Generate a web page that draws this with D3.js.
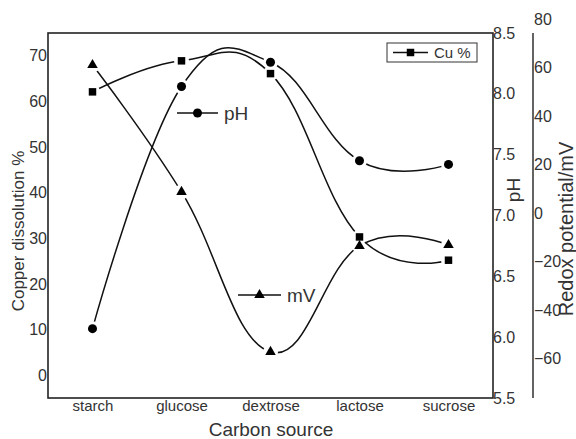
<!DOCTYPE html>
<html>
<head>
<meta charset="utf-8">
<script src="https://cdn.jsdelivr.net/npm/d3@7"></script>
<style>
  body { margin: 0; background: #fff; }
  text { font-family: "Liberation Sans", Arial, sans-serif; fill: #333; }
</style>
</head>
<body>
<svg id="chart" width="576" height="439"></svg>
<script>
// data
const sources = ["starch", "glucose", "dextrose", "lactose", "sucrose"];
const copper = [62.1, 68.9, 66.1, 30.3, 25.2];     // Cu %
const ph = [6.07, 8.06, 8.26, 7.45, 7.42];         // pH
const redox = [61, 8.7, -57.3, -13.6, -13.2];      // mV
const cuTicks = [0, 10, 20, 30, 40, 50, 60, 70];
const phTicks = [5.5, 6.0, 6.5, 7.0, 7.5, 8.0, 8.5];
const mvTicks = [-60, -40, -20, 0, 20, 40, 60, 80];

const svg = d3.select("#chart");
const pLeft = 48, pRight = 493, pTop = 33, pBottom = 398;
const redoxX = 533;

const x = d3.scalePoint().domain(sources).range([pLeft, pRight]).padding(0.5);
const yCu = d3.scaleLinear().domain([-5, 75]).range([pBottom, pTop]);
const yPh = d3.scaleLinear().domain([5.5, 8.5]).range([pBottom, pTop]);
const yMv = d3.scaleLinear().domain([-80, 80]).range([407, 19]);

// frame
svg.append("rect")
    .attr("x", pLeft).attr("y", pTop)
    .attr("width", pRight - pLeft).attr("height", pBottom - pTop)
    .attr("fill", "none").attr("stroke", "#222").attr("stroke-width", 1.6);

// left axis
const gL = svg.append("g").attr("transform", `translate(${pLeft},0)`)
    .call(d3.axisLeft(yCu).tickValues(cuTicks).tickSize(0).tickPadding(1));
gL.select(".domain").remove();
gL.selectAll("text").style("font-size", "16px").attr("fill", "#333");

// pH axis
const gP = svg.append("g").attr("transform", `translate(${pRight},0)`)
    .call(d3.axisRight(yPh).tickValues(phTicks).tickSize(0).tickPadding(0)
        .tickFormat(d3.format(".1f")));
gP.select(".domain").remove();
gP.selectAll("text").style("font-size", "16px").attr("fill", "#333");

// redox axis
svg.append("line")
    .attr("x1", redoxX).attr("x2", redoxX).attr("y1", pTop).attr("y2", pBottom)
    .attr("stroke", "#222").attr("stroke-width", 1.4);
const gM = svg.append("g").attr("transform", `translate(${redoxX},0)`)
    .call(d3.axisRight(yMv).tickValues(mvTicks).tickSize(0).tickPadding(1));
gM.select(".domain").remove();
gM.selectAll("text").style("font-size", "16px").attr("fill", "#333");

// x axis labels
const gX = svg.append("g").attr("transform", `translate(0,${pBottom})`)
    .call(d3.axisBottom(x).tickSize(0).tickPadding(2.5));
gX.select(".domain").remove();
gX.selectAll("text").style("font-size", "15px").attr("fill", "#333");

// titles
svg.append("text").attr("x", 271).attr("y", 436)
    .attr("text-anchor", "middle").style("font-size", "19px").text("Carbon source");
svg.append("text").attr("transform", "translate(24,231) rotate(-90)")
    .attr("text-anchor", "middle").style("font-size", "17px").text("Copper dissolution %");
svg.append("text").attr("transform", "translate(520,190) rotate(-90)")
    .attr("text-anchor", "middle").style("font-size", "19px").text("pH");
svg.append("text").attr("transform", "translate(573,229) rotate(-90)")
    .attr("text-anchor", "middle").style("font-size", "20px").text("Redox potential/mV");

const symbols = { square: d3.symbolSquare, circle: d3.symbolCircle, triangle: d3.symbolTriangle };
const sizes = { square: 56, circle: 64, triangle: 48 };

const series = [
    { id: "cu", values: copper, y: yCu, shape: "square" },
    { id: "ph", values: ph, y: yPh, shape: "circle" },
    { id: "mv", values: redox, y: yMv, shape: "triangle" }
];

const defs = svg.append("defs");
const line = d3.line().curve(d3.curveCardinal.tension(-0.25));

series.forEach(s => {
    const pts = sources.map((c, i) => [x(c), s.y(s.values[i])]);
    // gap around own markers
    const mask = defs.append("mask").attr("id", "m-" + s.id)
        .attr("maskUnits", "userSpaceOnUse")
        .attr("x", 0).attr("y", 0).attr("width", 576).attr("height", 439);
    mask.append("rect").attr("width", 576).attr("height", 439).attr("fill", "#fff");
    mask.selectAll("circle").data(pts).enter().append("circle")
        .attr("cx", d => d[0]).attr("cy", d => d[1]).attr("r", 7.5).attr("fill", "#000");

    svg.append("path").datum(pts)
        .attr("d", line)
        .attr("fill", "none").attr("stroke", "#111").attr("stroke-width", 1.5)
        .attr("mask", `url(#m-${s.id})`);

    svg.selectAll(".mk-" + s.id).data(pts).enter().append("path")
        .attr("class", "mk-" + s.id)
        .attr("transform", d => `translate(${d[0]},${d[1]})`)
        .attr("d", d3.symbol().type(symbols[s.shape]).size(sizes[s.shape]))
        .attr("fill", "#000");
});

// legend entries
function legendItem(x0, y0, x1, shape, label, size) {
    svg.append("line").attr("x1", x0).attr("x2", x1).attr("y1", y0).attr("y2", y0)
        .attr("stroke", "#111").attr("stroke-width", 1.5);
    svg.append("path").attr("transform", `translate(${(x0 + x1) / 2},${y0})`)
        .attr("d", d3.symbol().type(symbols[shape]).size(sizes[shape]))
        .attr("fill", "#000");
    svg.append("text").attr("x", x1 + 6).attr("y", y0 + parseFloat(size) * 0.36)
        .style("font-size", size).text(label);
}

svg.append("rect").attr("x", 387).attr("y", 43).attr("width", 90).attr("height", 19)
    .attr("fill", "#fff").attr("stroke", "#333").attr("stroke-width", 1);
legendItem(393, 52.5, 428, "square", "Cu %", "15px");
legendItem(177, 113, 218, "circle", "pH", "19px");
legendItem(238, 295, 281, "triangle", "mV", "19px");
</script>
</body>
</html>
